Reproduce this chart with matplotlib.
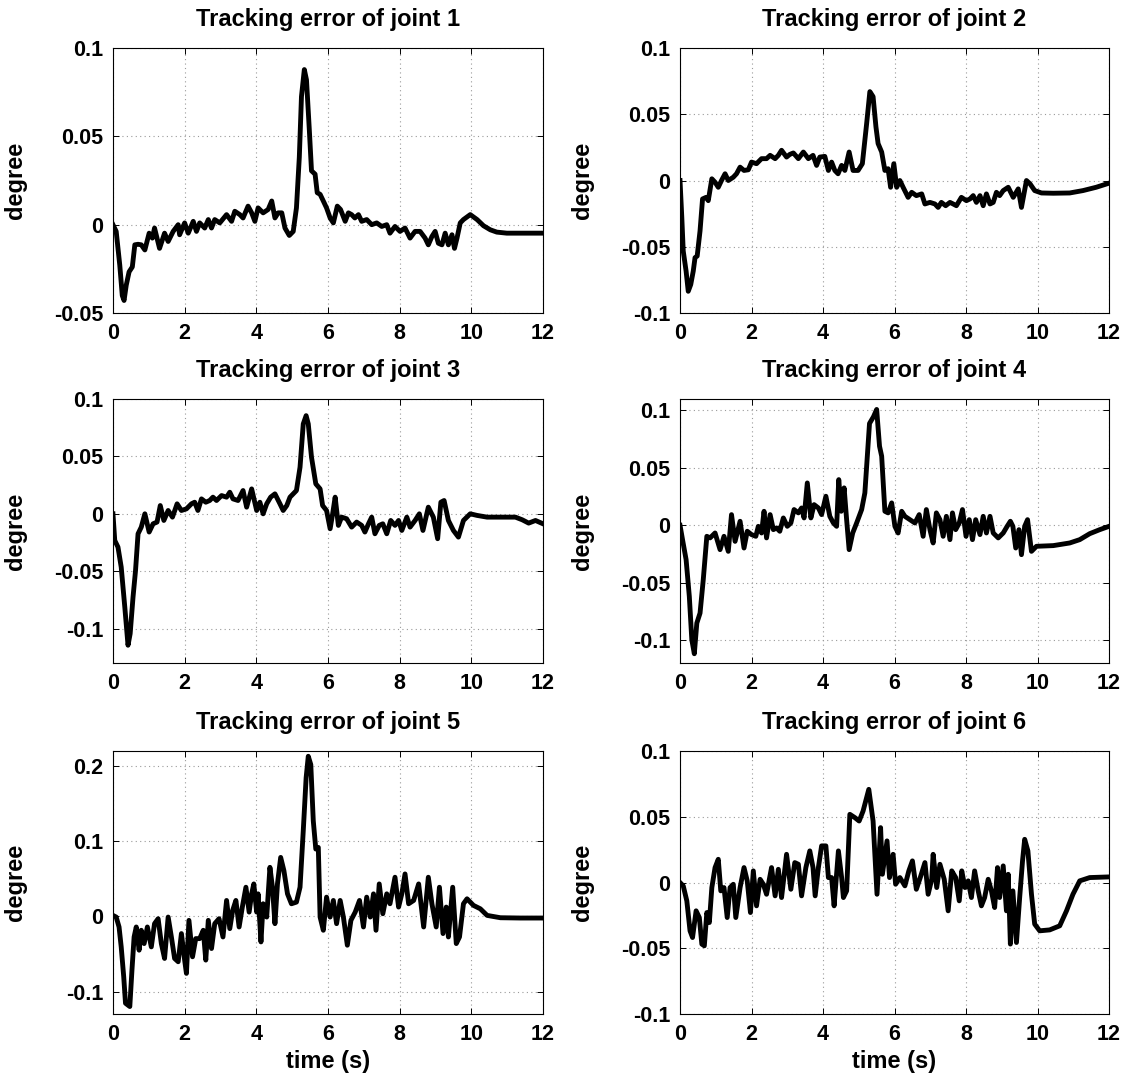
import matplotlib
matplotlib.use("Agg")
import matplotlib.pyplot as plt

plt.rcParams['font.family'] = ['Liberation Sans', 'DejaVu Sans']
plt.rcParams['font.weight'] = 'bold'

# joint 1
t1 = [0.00, 0.09, 0.19, 0.26, 0.31, 0.37, 0.45, 0.54, 0.61, 0.70, 0.79, 0.89, 1.01, 1.10, 1.16,
      1.30, 1.44, 1.54, 1.68, 1.82, 1.86, 2.00, 2.10, 2.24, 2.33, 2.42, 2.56, 2.66, 2.75, 2.84,
      2.98, 3.17, 3.31, 3.40, 3.54, 3.63, 3.77, 3.87, 3.96, 4.05, 4.19, 4.33, 4.43, 4.52, 4.61,
      4.71, 4.80, 4.92, 5.03, 5.12, 5.20, 5.26, 5.34, 5.40, 5.48, 5.54, 5.64, 5.70, 5.78, 5.87,
      5.96, 6.06, 6.15, 6.26, 6.35, 6.48, 6.57, 6.66, 6.75, 6.85, 6.94, 7.08, 7.22, 7.36, 7.50,
      7.64, 7.73, 7.87, 8.01, 8.15, 8.29, 8.43, 8.57, 8.71, 8.80, 8.90, 8.99, 9.08, 9.18, 9.27,
      9.36, 9.46, 9.53, 9.60, 9.69, 9.78, 9.97, 10.16, 10.34, 10.53, 10.71, 10.99, 12.00]
e1 = [0.0000, -0.0038, -0.0229, -0.0401, -0.0429, -0.0343, -0.0267, -0.0239, -0.0114, -0.0111,
      -0.0114, -0.0143, -0.0048, -0.0076, -0.0019, -0.0134, -0.0048, -0.0095, -0.0038, 0.0000,
      -0.0057, 0.0010, -0.0048, 0.0019, -0.0038, 0.0010, -0.0019, 0.0029, -0.0019, 0.0029,
      0.0010, 0.0057, 0.0019, 0.0076, 0.0057, 0.0038, 0.0105, 0.0067, 0.0019, 0.0095,
      0.0067, 0.0086, 0.0134, 0.0038, 0.0067, 0.0067, -0.0019, -0.0061, -0.0038, 0.0095,
      0.0382, 0.0725, 0.0878, 0.0820, 0.0534, 0.0305, 0.0286, 0.0181, 0.0172, 0.0134,
      0.0095, 0.0038, 0.0010, 0.0105, 0.0086, 0.0019, 0.0067, 0.0057, 0.0038, 0.0057,
      0.0019, 0.0029, 0.0000, 0.0010, -0.0010, 0.0000, -0.0048, -0.0010, -0.0038, -0.0019,
      -0.0076, -0.0038, -0.0038, -0.0076, -0.0114, -0.0067, -0.0038, -0.0105, -0.0114, -0.0048,
      -0.0114, -0.0057, -0.0134, -0.0076, 0.0010, 0.0029, 0.0057, 0.0029, -0.0006, -0.0029,
      -0.0042, -0.0048, -0.0048]

# joint 2
t2 = [0.00, 0.05, 0.09, 0.17, 0.23, 0.30, 0.37, 0.42, 0.48, 0.56, 0.63, 0.73, 0.79, 0.89, 0.98,
      1.07, 1.16, 1.26, 1.35, 1.49, 1.58, 1.68, 1.79, 1.91, 2.00, 2.14, 2.28, 2.42, 2.52, 2.66,
      2.75, 2.84, 2.98, 3.07, 3.17, 3.31, 3.45, 3.59, 3.72, 3.82, 3.91, 4.05, 4.15, 4.24, 4.33,
      4.42, 4.52, 4.61, 4.73, 4.84, 4.98, 5.10, 5.22, 5.31, 5.40, 5.48, 5.54, 5.64, 5.73, 5.82,
      5.89, 5.98, 6.06, 6.15, 6.24, 6.38, 6.48, 6.61, 6.76, 6.85, 6.99, 7.13, 7.22, 7.31, 7.43,
      7.55, 7.64, 7.73, 7.87, 8.01, 8.11, 8.20, 8.29, 8.39, 8.48, 8.57, 8.67, 8.76, 8.85, 8.94,
      9.04, 9.18, 9.32, 9.46, 9.55, 9.62, 9.69, 9.79, 9.92, 10.11, 10.44, 10.90, 11.27, 11.64, 12.00]
e2 = [0.0000, -0.0279, -0.0532, -0.0684, -0.0836, -0.0785, -0.0684, -0.0582, -0.0570, -0.0380,
      -0.0139, -0.0127, -0.0152, 0.0013, -0.0013, -0.0051, 0.0000, 0.0051, 0.0000, 0.0025,
      0.0051, 0.0101, 0.0076, 0.0081, 0.0139, 0.0127, 0.0165, 0.0165, 0.0190, 0.0165,
      0.0190, 0.0228, 0.0177, 0.0197, 0.0208, 0.0165, 0.0215, 0.0165, 0.0190, 0.0114,
      0.0177, 0.0182, 0.0076, 0.0139, 0.0076, 0.0051, 0.0114, 0.0076, 0.0215, 0.0076,
      0.0076, 0.0127, 0.0430, 0.0671, 0.0633, 0.0405, 0.0279, 0.0215, 0.0076, 0.0089,
      -0.0051, 0.0127, -0.0051, 0.0000, -0.0051, -0.0127, -0.0089, -0.0114, -0.0101, -0.0177,
      -0.0165, -0.0177, -0.0203, -0.0165, -0.0190, -0.0165, -0.0177, -0.0190, -0.0127, -0.0152,
      -0.0139, -0.0114, -0.0165, -0.0114, -0.0190, -0.0101, -0.0177, -0.0165, -0.0089, -0.0114,
      -0.0076, -0.0051, -0.0127, -0.0063, -0.0203, -0.0101, 0.0000, -0.0025, -0.0076, -0.0094,
      -0.0096, -0.0094, -0.0076, -0.0051, -0.0020]

# joint 3
t3 = [0.00, 0.05, 0.14, 0.23, 0.33, 0.42, 0.48, 0.56, 0.63, 0.70, 0.79, 0.89, 1.01, 1.12, 1.23,
      1.32, 1.42, 1.54, 1.66, 1.79, 1.91, 2.05, 2.19, 2.28, 2.37, 2.47, 2.59, 2.70, 2.79, 2.89,
      3.03, 3.17, 3.26, 3.35, 3.49, 3.63, 3.73, 3.87, 4.01, 4.10, 4.19, 4.29, 4.40, 4.52, 4.66,
      4.75, 4.85, 4.94, 5.12, 5.22, 5.31, 5.39, 5.45, 5.54, 5.66, 5.78, 5.85, 5.96, 6.06, 6.13,
      6.20, 6.29, 6.38, 6.52, 6.66, 6.80, 6.94, 7.03, 7.13, 7.22, 7.31, 7.43, 7.53, 7.64, 7.75,
      7.87, 7.97, 8.06, 8.20, 8.29, 8.43, 8.55, 8.65, 8.80, 8.94, 9.06, 9.15, 9.24, 9.36, 9.50,
      9.64, 9.78, 9.97, 10.16, 10.44, 10.81, 11.23, 11.42, 11.60, 11.79, 12.00]
e3 = [0.0000, -0.0232, -0.0290, -0.0464, -0.0812, -0.1145, -0.1044, -0.0725, -0.0493, -0.0174,
      -0.0116, 0.0000, -0.0159, -0.0087, -0.0072, 0.0072, -0.0058, 0.0029, -0.0029, 0.0087,
      0.0029, 0.0043, 0.0087, 0.0101, 0.0029, 0.0130, 0.0101, 0.0116, 0.0145, 0.0116,
      0.0159, 0.0145, 0.0188, 0.0130, 0.0116, 0.0203, 0.0058, 0.0217, 0.0029, 0.0101,
      0.0000, 0.0087, 0.0145, 0.0174, 0.0087, 0.0029, 0.0072, 0.0145, 0.0203, 0.0406,
      0.0783, 0.0855, 0.0783, 0.0493, 0.0261, 0.0217, 0.0072, 0.0029, -0.0130, 0.0000,
      0.0145, -0.0101, -0.0029, -0.0043, -0.0116, -0.0072, -0.0101, -0.0159, -0.0087, -0.0029,
      -0.0174, -0.0101, -0.0087, -0.0174, -0.0058, -0.0101, -0.0058, -0.0145, -0.0029, -0.0116,
      -0.0058, 0.0000, -0.0145, 0.0058, -0.0029, -0.0217, 0.0101, 0.0116, -0.0058, -0.0145,
      -0.0203, -0.0058, 0.0000, -0.0014, -0.0029, -0.0029, -0.0029, -0.0052, -0.0081, -0.0058,
      -0.0087]

# joint 4
t4 = [0.00, 0.07, 0.17, 0.26, 0.33, 0.40, 0.47, 0.56, 0.65, 0.75, 0.84, 0.98, 1.12, 1.23, 1.35,
      1.44, 1.54, 1.68, 1.79, 1.88, 2.00, 2.12, 2.19, 2.28, 2.35, 2.42, 2.52, 2.61, 2.70, 2.79,
      2.89, 3.00, 3.10, 3.19, 3.31, 3.40, 3.47, 3.56, 3.66, 3.75, 3.87, 3.96, 4.08, 4.19, 4.29,
      4.38, 4.44, 4.51, 4.59, 4.66, 4.73, 4.83, 4.94, 5.08, 5.17, 5.30, 5.41, 5.50, 5.58, 5.64,
      5.73, 5.82, 5.92, 6.01, 6.10, 6.20, 6.29, 6.43, 6.57, 6.69, 6.80, 6.89, 6.99, 7.08, 7.17,
      7.27, 7.36, 7.45, 7.55, 7.62, 7.71, 7.81, 7.90, 8.00, 8.09, 8.18, 8.27, 8.39, 8.48, 8.57,
      8.67, 8.76, 8.90, 9.04, 9.15, 9.24, 9.31, 9.39, 9.48, 9.55, 9.64, 9.72, 9.83, 9.97, 10.44,
      10.90, 11.18, 11.46, 11.74, 12.00]
e4 = [0.0000, -0.0125, -0.0299, -0.0619, -0.0997, -0.1119, -0.0852, -0.0765, -0.0474, -0.0096,
      -0.0110, -0.0067, -0.0212, -0.0096, -0.0227, 0.0093, -0.0140, 0.0035, -0.0198, -0.0052,
      -0.0081, -0.0096, -0.0009, -0.0067, 0.0122, -0.0110, 0.0093, -0.0038, -0.0023, -0.0052,
      0.0064, -0.0009, 0.0020, 0.0137, 0.0108, 0.0151, 0.0064, 0.0369, 0.0064, 0.0180,
      0.0151, 0.0093, 0.0253, 0.0078, 0.0020, -0.0009, 0.0398, 0.0122, 0.0326, 0.0049,
      -0.0212, -0.0067, 0.0020, 0.0137, 0.0282, 0.0887, 0.0945, 0.1009, 0.0689, 0.0602,
      0.0122, 0.0108, 0.0195, -0.0009, -0.0067, 0.0122, 0.0078, 0.0049, 0.0020, 0.0093,
      -0.0096, 0.0137, -0.0038, -0.0154, 0.0108, 0.0049, -0.0096, 0.0078, -0.0125, 0.0108,
      -0.0038, 0.0020, 0.0137, -0.0096, 0.0049, -0.0125, 0.0049, -0.0081, 0.0078, -0.0067,
      0.0078, -0.0067, -0.0110, -0.0067, -0.0009, 0.0035, -0.0009, -0.0198, -0.0038, -0.0256,
      -0.0009, 0.0049, -0.0227, -0.0183, -0.0177, -0.0154, -0.0125, -0.0073, -0.0038, -0.0009]

# joint 5
t5 = [0.00, 0.09, 0.17, 0.23, 0.30, 0.35, 0.47, 0.53, 0.59, 0.65, 0.73, 0.79, 0.87, 0.96, 1.07,
      1.16, 1.26, 1.35, 1.44, 1.54, 1.63, 1.72, 1.82, 1.91, 2.00, 2.05, 2.12, 2.22, 2.31, 2.42,
      2.52, 2.59, 2.66, 2.75, 2.84, 2.96, 3.07, 3.17, 3.26, 3.34, 3.43, 3.52, 3.61, 3.71, 3.80,
      3.87, 3.93, 4.01, 4.05, 4.13, 4.19, 4.29, 4.38, 4.45, 4.52, 4.59, 4.68, 4.77, 4.87, 4.98,
      5.12, 5.22, 5.31, 5.39, 5.45, 5.52, 5.59, 5.66, 5.73, 5.78, 5.87, 5.96, 6.06, 6.15, 6.24,
      6.34, 6.43, 6.54, 6.64, 6.76, 6.88, 6.99, 7.08, 7.18, 7.27, 7.34, 7.43, 7.53, 7.64, 7.73,
      7.87, 7.97, 8.06, 8.15, 8.25, 8.39, 8.53, 8.67, 8.80, 8.90, 9.02, 9.11, 9.21, 9.30, 9.36,
      9.48, 9.58, 9.67, 9.78, 9.88, 10.06, 10.25, 10.44, 10.81, 11.37, 12.00]
e5 = [0.0013, -0.0009, -0.0141, -0.0406, -0.0803, -0.1156, -0.1200, -0.0715, -0.0274, -0.0141,
      -0.0450, -0.0185, -0.0362, -0.0141, -0.0406, -0.0097, -0.0031, -0.0362, -0.0560, -0.0009,
      -0.0274, -0.0560, -0.0604, -0.0229, -0.0582, -0.0759, -0.0053, -0.0538, -0.0296, -0.0296,
      -0.0185, -0.0582, -0.0053, -0.0428, -0.0097, -0.0031, -0.0274, 0.0212, -0.0163, 0.0079,
      0.0212, -0.0141, 0.0124, 0.0388, 0.0057, 0.0300, 0.0432, 0.0057, 0.0300, -0.0340,
      0.0168, -0.0009, 0.0653, 0.0388, -0.0097, 0.0432, 0.0785, 0.0609, 0.0300, 0.0168,
      0.0190, 0.0388, 0.1138, 0.1844, 0.2131, 0.2021, 0.1270, 0.0896, 0.0918, -0.0009,
      -0.0185, 0.0256, -0.0009, 0.0212, -0.0097, 0.0212, -0.0009, -0.0384, -0.0053, 0.0057,
      0.0212, -0.0141, 0.0256, -0.0009, 0.0300, -0.0185, 0.0432, 0.0035, 0.0300, 0.0168,
      0.0521, 0.0124, 0.0300, 0.0565, 0.0168, 0.0212, 0.0432, -0.0141, 0.0521, 0.0168,
      -0.0141, 0.0388, -0.0229, 0.0124, -0.0274, 0.0388, -0.0362, -0.0274, 0.0168, 0.0234,
      0.0146, 0.0101, 0.0013, -0.0018, -0.0022, -0.0022]

# joint 6
t6 = [0.00, 0.09, 0.19, 0.28, 0.35, 0.45, 0.54, 0.61, 0.68, 0.75, 0.82, 0.89, 0.98, 1.07, 1.14,
      1.23, 1.32, 1.40, 1.49, 1.56, 1.68, 1.79, 1.88, 1.97, 2.05, 2.14, 2.24, 2.33, 2.42, 2.56,
      2.66, 2.75, 2.84, 2.98, 3.10, 3.21, 3.31, 3.40, 3.52, 3.63, 3.72, 3.78, 3.87, 3.96, 4.08,
      4.15, 4.24, 4.31, 4.43, 4.52, 4.57, 4.66, 4.75, 4.89, 5.01, 5.12, 5.28, 5.40, 5.51, 5.61,
      5.66, 5.79, 5.86, 5.96, 6.03, 6.15, 6.29, 6.40, 6.50, 6.61, 6.72, 6.85, 6.94, 7.04, 7.08,
      7.18, 7.27, 7.39, 7.50, 7.60, 7.71, 7.81, 7.88, 7.97, 8.06, 8.15, 8.24, 8.34, 8.43, 8.52,
      8.62, 8.71, 8.80, 8.88, 8.94, 9.04, 9.13, 9.18, 9.24, 9.31, 9.41, 9.50, 9.58, 9.64, 9.73,
      9.83, 9.92, 10.06, 10.34, 10.62, 10.81, 10.99, 11.18, 11.46, 12.00]
e6 = [0.0000, -0.0025, -0.0139, -0.0367, -0.0418, -0.0215, -0.0266, -0.0468, -0.0481, -0.0228,
      -0.0304, -0.0038, 0.0114, 0.0177, -0.0063, -0.0038, -0.0266, -0.0038, -0.0013, -0.0266,
      -0.0038, 0.0114, 0.0013, -0.0228, 0.0089, -0.0177, 0.0025, -0.0013, -0.0089, 0.0114,
      -0.0101, 0.0101, -0.0114, 0.0215, -0.0051, 0.0152, 0.0139, -0.0101, 0.0114, 0.0241,
      0.0114, -0.0101, 0.0114, 0.0279, 0.0279, 0.0038, 0.0038, -0.0177, 0.0241, 0.0038,
      -0.0114, -0.0063, 0.0519, 0.0494, 0.0468, 0.0544, 0.0709, 0.0468, -0.0089, 0.0418,
      0.0063, 0.0317, 0.0038, 0.0215, -0.0013, 0.0038, -0.0025, 0.0089, 0.0165, -0.0051,
      0.0038, 0.0152, -0.0089, 0.0025, 0.0215, -0.0038, 0.0139, 0.0025, -0.0215, 0.0089,
      0.0038, -0.0139, 0.0089, -0.0038, 0.0013, -0.0114, 0.0089, -0.0063, -0.0177, -0.0114,
      0.0025, -0.0063, -0.0190, 0.0114, -0.0114, 0.0127, -0.0215, 0.0063, -0.0468, -0.0063,
      -0.0456, -0.0114, 0.0165, 0.0329, 0.0241, -0.0089, -0.0316, -0.0367, -0.0360, -0.0329,
      -0.0215, -0.0089, 0.0013, 0.0038, 0.0043]

times = [t1, t2, t3, t4, t5, t6]
errors = [e1, e2, e3, e4, e5, e6]
ylims = [(-0.05, 0.1), (-0.1, 0.1), (-0.13, 0.1), (-0.12, 0.11), (-0.13, 0.22), (-0.1, 0.1)]
yticks = [[-0.05, 0, 0.05, 0.1],
          [-0.1, -0.05, 0, 0.05, 0.1],
          [-0.1, -0.05, 0, 0.05, 0.1],
          [-0.1, -0.05, 0, 0.05, 0.1],
          [-0.1, 0, 0.1, 0.2],
          [-0.1, -0.05, 0, 0.05, 0.1]]
ytick_labels = [['-0.05', '0', '0.05', '0.1'],
                ['-0.1', '-0.05', '0', '0.05', '0.1'],
                ['-0.1', '-0.05', '0', '0.05', '0.1'],
                ['-0.1', '-0.05', '0', '0.05', '0.1'],
                ['-0.1', '0', '0.1', '0.2'],
                ['-0.1', '-0.05', '0', '0.05', '0.1']]
xticks = [0, 2, 4, 6, 8, 10, 12]

fig = plt.figure(figsize=(11.24, 10.79), dpi=100)

# axes boxes in figure fractions (left col / right col, three rows)
lefts = [0.1005, 0.605]
widths = [0.3826, 0.3817]
bottoms = [0.7099, 0.3855, 0.0602]
heights = [0.2456, 0.2447, 0.2437]

for k in range(6):
    row, col = k // 2, k % 2
    ax = fig.add_axes([lefts[col], bottoms[row], widths[col], heights[row]])
    ax.plot(times[k], errors[k], color='black', linewidth=3.5, solid_joinstyle='round')
    ax.set_xlim(0, 12)
    ax.set_ylim(*ylims[k])
    ax.set_xticks(xticks)
    ax.set_xticklabels([str(x) for x in xticks])
    ax.set_yticks(yticks[k])
    ax.set_yticklabels(ytick_labels[k])
    ax.grid(True, color='#9a9a9a', linestyle=(0, (1, 3)), linewidth=0.8)
    ax.tick_params(direction='in', length=4, width=0.7, top=True, right=True,
                   labelsize=15.5, pad=7)
    for lab in ax.get_xticklabels() + ax.get_yticklabels():
        lab.set_fontweight('bold')
    for sp in ax.spines.values():
        sp.set_linewidth(0.8)
    ax.set_title('Tracking error of joint %d' % (k + 1), fontsize=17,
                 fontweight='bold', pad=16)
    ax.set_ylabel('degree', fontsize=17, fontweight='bold')
    ax.yaxis.set_label_coords(-0.2, 0.5)
    if row == 2:
        ax.set_xlabel('time (s)', fontsize=17, fontweight='bold', labelpad=4)

fig.savefig('out.png', dpi=100)
